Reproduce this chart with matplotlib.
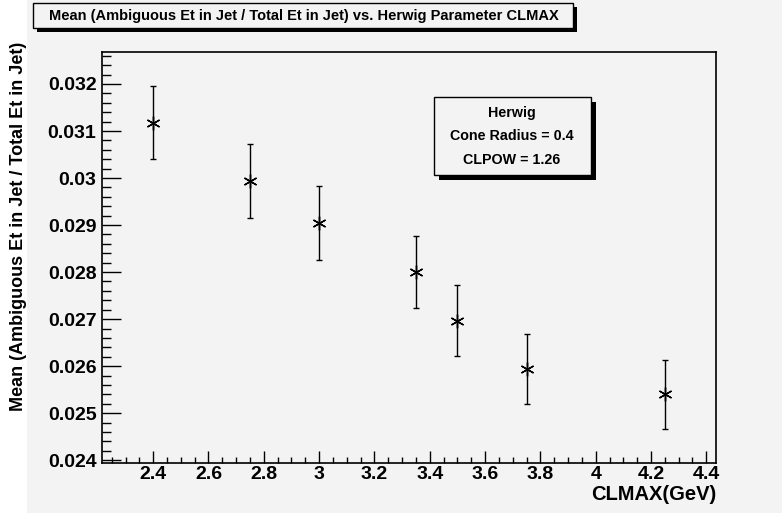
import matplotlib
matplotlib.use("Agg")
import matplotlib.pyplot as plt
from matplotlib.patches import Rectangle
from matplotlib.ticker import MultipleLocator

clmax = [2.4, 2.75, 3.0, 3.35, 3.5, 3.75, 4.25]
mean_ratio = [0.03118, 0.02994, 0.02905, 0.02800, 0.02697, 0.02594, 0.02540]
errors = [0.00078, 0.00078, 0.00079, 0.00077, 0.00075, 0.00075, 0.00074]

title = "Mean (Ambiguous Et in Jet / Total Et in Jet) vs. Herwig Parameter CLMAX"
legend_lines = ["Herwig", "Cone Radius = 0.4", "CLPOW = 1.26"]
xlabel = "CLMAX(GeV)"
ylabel = "Mean (Ambiguous Et in Jet / Total Et in Jet)"

plt.rcParams['font.family'] = ['Liberation Sans', 'DejaVu Sans']
plt.rcParams['font.weight'] = 'bold'

W, H = 782, 513
bg = '#f3f3f3'
fig = plt.figure(figsize=(W / 100, H / 100), dpi=100, facecolor=bg)

def fx(px):
    return px / W

def fy(py):
    return 1 - py / H

# white strip on the left
fig.patches.append(Rectangle((0, 0), fx(27), 1, transform=fig.transFigure,
                             facecolor='white', edgecolor='none', zorder=0))

ax = fig.add_axes([fx(102), fy(463), fx(716) - fx(102), fy(52) - fy(463)])
ax.set_facecolor(bg)
ax.errorbar(clmax, mean_ratio, yerr=errors, fmt='none', ecolor='black',
            elinewidth=1, capsize=2.5, capthick=1)
ax.plot(clmax, mean_ratio, linestyle='none', marker=(6, 2, 0), markersize=10,
        color='black', markeredgewidth=1.0)

ax.set_xlim(2.215, 4.435)
ax.set_ylim(0.02394, 0.03268)
ax.xaxis.set_major_locator(MultipleLocator(0.2))
ax.xaxis.set_minor_locator(MultipleLocator(0.05))
ax.yaxis.set_major_locator(MultipleLocator(0.001))
ax.yaxis.set_minor_locator(MultipleLocator(0.0002))
ax.xaxis.set_major_formatter(plt.FuncFormatter(lambda v, p: f"{v:.10g}"))
ax.yaxis.set_major_formatter(plt.FuncFormatter(lambda v, p: f"{round(v, 4):.10g}"))
ax.tick_params(axis='both', which='both', direction='in', top=False, right=False,
               colors='black', labelsize=14)
ax.tick_params(axis='y', which='major', length=13.5, width=1, pad=4)
ax.tick_params(axis='y', which='minor', length=6.5, width=1)
ax.tick_params(axis='x', which='major', length=8.6, width=1, pad=2)
ax.tick_params(axis='x', which='minor', length=4.3, width=1)
for lab in ax.get_xticklabels() + ax.get_yticklabels():
    lab.set_fontweight('bold')
for s in ax.spines.values():
    s.set_linewidth(1.2)

# axis titles
fig.text(fx(716), fy(494), xlabel, ha='right', va='center', fontsize=14.5, fontweight='bold')
fig.text(fx(19), fy(42), ylabel, ha='center', va='top', rotation=90, fontsize=13,
         fontweight='bold')

def shadow_box(x0, y0, x1, y1, off):
    fig.patches.append(Rectangle((fx(x0 + off), fy(y1 + off)), fx(x1 - x0), fy(y0) - fy(y1),
                                 transform=fig.transFigure, facecolor='black',
                                 edgecolor='none', zorder=2))
    fig.patches.append(Rectangle((fx(x0), fy(y1)), fx(x1 - x0), fy(y0) - fy(y1),
                                 transform=fig.transFigure, facecolor=bg,
                                 edgecolor='black', linewidth=1, zorder=3))

# title box
shadow_box(33, 3, 573, 28, 4)
fig.text(fx(304), fy(16), title, ha='center', va='center', fontsize=10.5,
         fontweight='bold', zorder=5)

# legend box
shadow_box(434, 97, 591, 175, 5)
for txt, yy in zip(legend_lines, [113, 136, 160]):
    fig.text(fx(512), fy(yy), txt, ha='center', va='center', fontsize=10.3,
             fontweight='bold', zorder=5)

fig.savefig("out.png", dpi=100, facecolor=bg)
